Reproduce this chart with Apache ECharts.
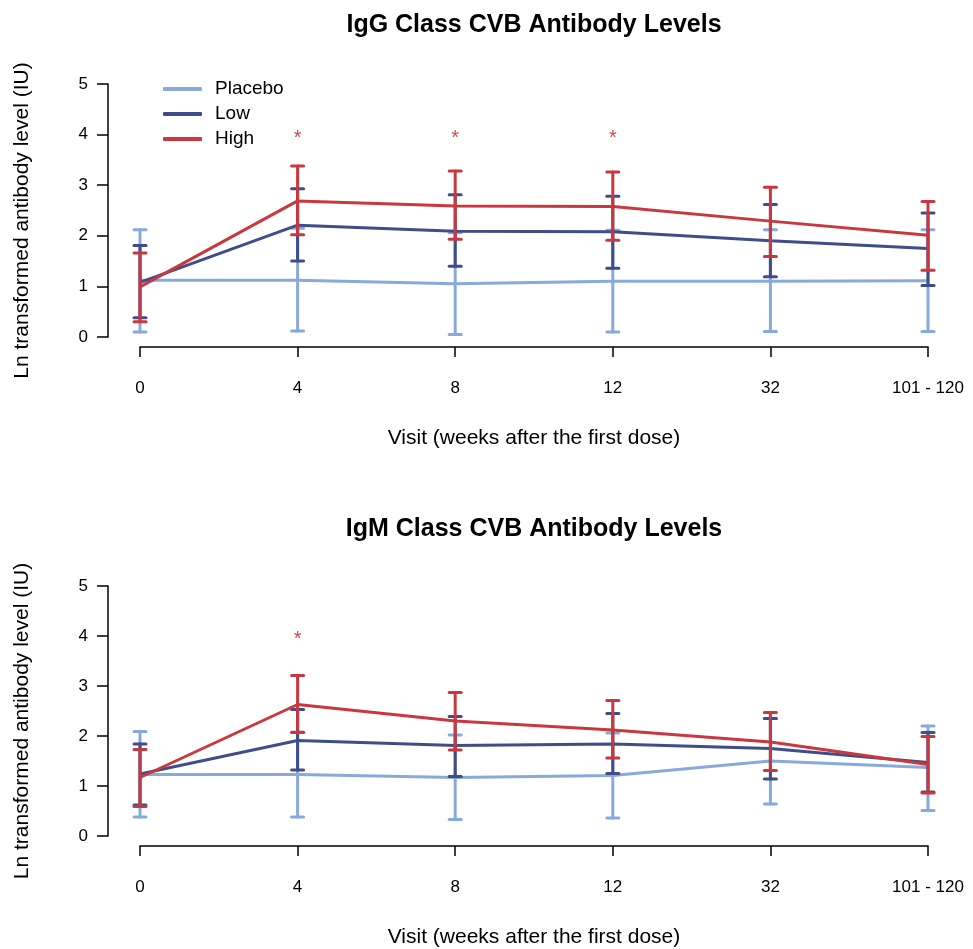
<!DOCTYPE html>
<html>
<head>
<meta charset="utf-8">
<script src="https://cdn.jsdelivr.net/npm/echarts@6/dist/echarts.min.js"></script>
<style>
html,body{margin:0;padding:0;background:#fff;}
#chart{width:973px;height:949px;}
</style>
</head>
<body>
<div id="chart"></div>
<script>
// ---- Data ----
var visits = ['0', '4', '8', '12', '32', '101 - 120'];
var groups = ['Placebo', 'Low', 'High'];

// IgG chart
var iggPlaceboMean = [1.12, 1.12, 1.05, 1.10, 1.10, 1.11];
var iggPlaceboLo   = [0.10, 0.12, 0.05, 0.10, 0.11, 0.11];
var iggPlaceboHi   = [2.12, 2.15, 2.06, 2.11, 2.12, 2.12];
var iggLowMean     = [1.08, 2.21, 2.09, 2.08, 1.90, 1.75];
var iggLowLo       = [0.38, 1.50, 1.40, 1.36, 1.19, 1.02];
var iggLowHi       = [1.81, 2.93, 2.81, 2.78, 2.62, 2.45];
var iggHighMean    = [0.99, 2.69, 2.59, 2.58, 2.29, 2.01];
var iggHighLo      = [0.30, 2.02, 1.93, 1.91, 1.59, 1.32];
var iggHighHi      = [1.66, 3.38, 3.28, 3.26, 2.96, 2.68];
var iggStars       = ['4', '8', '12'];

// IgM chart
var igmPlaceboMean = [1.23, 1.23, 1.17, 1.21, 1.50, 1.37];
var igmPlaceboLo   = [0.38, 0.38, 0.33, 0.36, 0.64, 0.51];
var igmPlaceboHi   = [2.09, 2.08, 2.02, 2.06, 2.35, 2.20];
var igmLowMean     = [1.24, 1.91, 1.81, 1.84, 1.75, 1.47];
var igmLowLo       = [0.62, 1.32, 1.19, 1.25, 1.14, 0.88];
var igmLowHi       = [1.84, 2.53, 2.39, 2.45, 2.35, 2.07];
var igmHighMean    = [1.17, 2.63, 2.30, 2.12, 1.88, 1.43];
var igmHighLo      = [0.59, 2.07, 1.72, 1.56, 1.31, 0.86];
var igmHighHi      = [1.73, 3.21, 2.87, 2.71, 2.47, 1.99];
var igmStars       = ['4'];

var starLevel = 3.93;
var yTicks = [0, 1, 2, 3, 4, 5];

var titles = ['IgG Class CVB Antibody Levels', 'IgM Class CVB Antibody Levels'];
var xTitle = 'Visit (weeks after the first dose)';
var yTitle = 'Ln transformed antibody level (IU)';

// ---- Styles ----
var colors = {Placebo: '#88a9db', Low: '#3f4e8b', High: '#c9383e'};
var FONT = 'Liberation Sans, Arial, sans-serif';

function errorBarSeries(name, gridIdx, lo, hi, z) {
  var data = lo.map(function (v, i) { return [i, v, hi[i]]; });
  return {
    type: 'custom',
    name: name + ' error',
    xAxisIndex: gridIdx, yAxisIndex: gridIdx,
    z: z,
    silent: true,
    encode: {x: 0, y: [1, 2]},
    data: data,
    renderItem: function (params, api) {
      var x = api.value(0);
      var pLo = api.coord([x, api.value(1)]);
      var pHi = api.coord([x, api.value(2)]);
      var half = 6;
      var st = {stroke: colors[name], lineWidth: 3, lineCap: 'round'};
      return {
        type: 'group',
        children: [
          {type: 'line', shape: {x1: pLo[0], y1: pLo[1], x2: pHi[0], y2: pHi[1]}, style: st},
          {type: 'line', shape: {x1: pLo[0] - half, y1: pLo[1], x2: pLo[0] + half, y2: pLo[1]}, style: st},
          {type: 'line', shape: {x1: pHi[0] - half, y1: pHi[1], x2: pHi[0] + half, y2: pHi[1]}, style: st}
        ]
      };
    }
  };
}

function lineSeries(name, gridIdx, mean, z) {
  return {
    type: 'line',
    name: name,
    xAxisIndex: gridIdx, yAxisIndex: gridIdx,
    z: z,
    symbol: 'none',
    data: mean,
    lineStyle: {color: colors[name], width: 3},
    itemStyle: {color: colors[name]},
    silent: true
  };
}

function starSeries(gridIdx, cats) {
  return {
    type: 'custom',
    name: 'stars' + gridIdx,
    xAxisIndex: gridIdx, yAxisIndex: gridIdx,
    z: 10,
    silent: true,
    data: cats.map(function (c) { return [visits.indexOf(c), starLevel]; }),
    renderItem: function (params, api) {
      var p = api.coord([api.value(0), api.value(1)]);
      return {
        type: 'text',
        x: p[0], y: p[1],
        style: {text: '*', fill: '#cf4a4a', fontSize: 20, fontFamily: FONT, align: 'center', verticalAlign: 'middle'}
      };
    }
  };
}

function xAxisCfg(gridIdx) {
  return {
    type: 'category', gridIndex: gridIdx, data: visits, boundaryGap: false, offset: 10,
    axisLine: {onZero: false, lineStyle: {color: '#000', width: 1.5}},
    axisTick: {length: 10, interval: 0, lineStyle: {color: '#000', width: 1.5}},
    axisLabel: {color: '#000', fontSize: 17, fontFamily: FONT, margin: 33, interval: 0},
    splitLine: {show: false},
    name: xTitle, nameLocation: 'middle', nameGap: 81,
    nameTextStyle: {color: '#000', fontSize: 21, fontFamily: FONT}
  };
}

function yAxisCfg(gridIdx) {
  return {
    type: 'value', gridIndex: gridIdx, min: yTicks[0], max: yTicks[yTicks.length - 1], interval: 1, offset: 32,
    axisLine: {show: true, onZero: false, lineStyle: {color: '#000', width: 1.5}},
    axisTick: {show: true, length: 11, lineStyle: {color: '#000', width: 1.5}},
    axisLabel: {color: '#000', fontSize: 17, fontFamily: FONT, margin: 20},
    splitLine: {show: false},
    name: yTitle, nameLocation: 'middle', nameGap: 75,
    nameTextStyle: {color: '#000', fontSize: 21, fontFamily: FONT, padding: [0, 20, 0, 0]}
  };
}

var series = [];
[[iggPlaceboMean, iggPlaceboLo, iggPlaceboHi, iggLowMean, iggLowLo, iggLowHi, iggHighMean, iggHighLo, iggHighHi],
 [igmPlaceboMean, igmPlaceboLo, igmPlaceboHi, igmLowMean, igmLowLo, igmLowHi, igmHighMean, igmHighLo, igmHighHi]
].forEach(function (d, g) {
  groups.forEach(function (name, k) {
    series.push(errorBarSeries(name, g, d[k * 3 + 1], d[k * 3 + 2], 2 + k * 2));
    series.push(lineSeries(name, g, d[k * 3], 3 + k * 2));
  });
});
series.push(starSeries(0, iggStars));
series.push(starSeries(1, igmStars));

var chart = echarts.init(document.getElementById('chart'), null, {renderer: 'canvas'});
chart.setOption({
  animation: false,
  backgroundColor: '#fff',
  title: [
    {text: titles[0], left: 529, top: 8, textAlign: 'center',
     textStyle: {fontSize: 25, fontWeight: 'bold', color: '#000', fontFamily: FONT}},
    {text: titles[1], left: 529, top: 512, textAlign: 'center',
     textStyle: {fontSize: 25, fontWeight: 'bold', color: '#000', fontFamily: FONT}}
  ],
  legend: {
    data: groups.map(function (g) {
      return {name: g, icon: 'roundRect', itemStyle: {color: colors[g]}};
    }),
    orient: 'vertical',
    left: 158, top: 74,
    itemWidth: 39, itemHeight: 4, itemGap: 5,
    selectedMode: false,
    textStyle: {color: '#000', fontSize: 19, fontFamily: FONT, padding: [0, 0, 0, 8], lineHeight: 20}
  },
  grid: [
    {left: 140, right: 45, top: 84, height: 253},
    {left: 140, right: 45, top: 586, height: 253}
  ],
  xAxis: [xAxisCfg(0), xAxisCfg(1)],
  yAxis: [yAxisCfg(0), yAxisCfg(1)],
  series: series
});
</script>
</body>
</html>
